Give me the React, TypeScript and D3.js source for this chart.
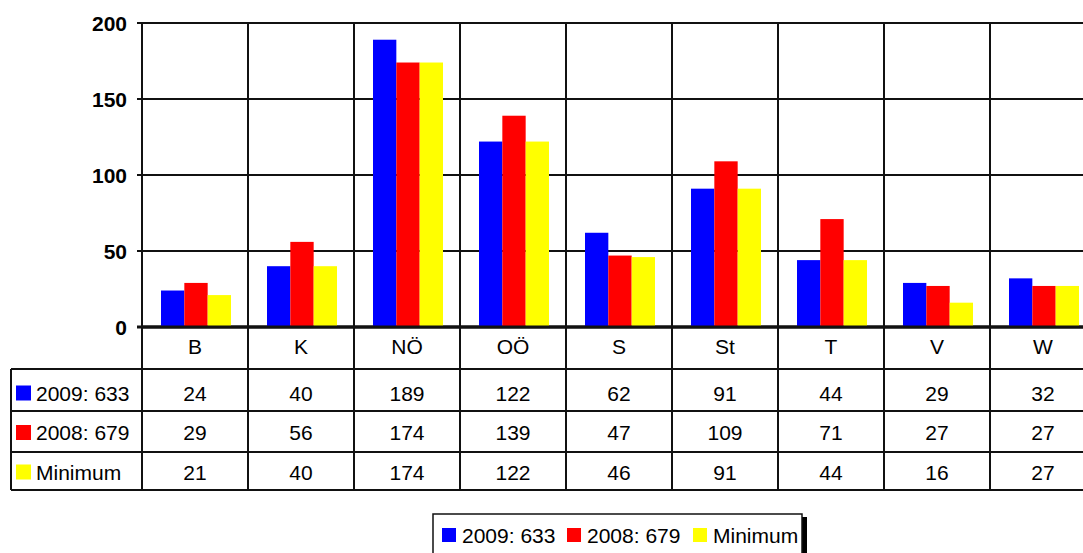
import * as d3 from 'd3'

const CATEGORIES = ['B', 'K', 'NÖ', 'OÖ', 'S', 'St', 'T', 'V', 'W']
const SERIES = ['2009: 633', '2008: 679', 'Minimum']
const COLORS = ['#0000ff', '#ff0000', '#ffff00']
const VALUES_2009 = [24, 40, 189, 122, 62, 91, 44, 29, 32]
const VALUES_2008 = [29, 56, 174, 139, 47, 109, 71, 27, 27]
const VALUES_MIN = [21, 40, 174, 122, 46, 91, 44, 16, 27]
const Y_TICKS = [0, 50, 100, 150, 200]

const W = 1083
const H = 553
const PLOT = { left: 142, top: 23, bottom: 327, step: 106 }
const ROWS = [369, 411, 452, 490]
// vertical centre of text in header row and each data row
const HEADER_TEXT_Y = 346
const ROW_TEXT_Y = [393, 432.5, 472]
const TABLE_LEFT = 11
const FONT = 'Arial, "Liberation Sans", sans-serif'
const FS = 21

export default function App() {
  const data = [VALUES_2009, VALUES_2008, VALUES_MIN]

  const x = d3
    .scaleBand<string>()
    .domain(CATEGORIES)
    .range([PLOT.left, PLOT.left + PLOT.step * CATEGORIES.length])
    .padding(0)
  const inner = d3.scaleBand<string>().domain(SERIES).range([19, 89]).padding(0)
  const y = d3.scaleLinear().domain([0, 200]).range([PLOT.bottom, PLOT.top])

  const right = PLOT.left + PLOT.step * CATEGORIES.length
  const stroke = '#111'
  const mid = (c: string) => (x(c) ?? 0) + x.bandwidth() / 2

  return (
    <svg
      width={W}
      height={H}
      style={{ position: 'absolute', left: 0, top: 0, background: '#fff' }}
      fontFamily={FONT}
    >
      {/* horizontal grid + ticks */}
      {Y_TICKS.map((t) => (
        <g key={t}>
          <line x1={PLOT.left - 5} x2={right} y1={y(t)} y2={y(t)} stroke={stroke} strokeWidth={t === 0 ? 3 : 2} />
          <text x={127} y={y(t)} dy="0.36em" textAnchor="end" fontWeight="bold" fontSize={FS}>
            {t}
          </text>
        </g>
      ))}

      {/* bars */}
      {CATEGORIES.map((c, i) => (
        <g key={c} transform={`translate(${x(c)},0)`}>
          {SERIES.map((s, j) => (
            <rect
              key={s}
              x={inner(s)}
              width={inner.bandwidth()}
              y={y(data[j][i])}
              height={y(0) - y(data[j][i])}
              fill={COLORS[j]}
            />
          ))}
        </g>
      ))}

      {/* vertical grid lines through plot and table */}
      {CATEGORIES.map((c) => (
        <line key={c} x1={x(c)} x2={x(c)} y1={PLOT.top} y2={ROWS[3]} stroke={stroke} strokeWidth={2} />
      ))}
      <line x1={right} x2={right} y1={PLOT.top} y2={ROWS[3]} stroke={stroke} strokeWidth={2} />
      <line x1={PLOT.left} x2={right} y1={PLOT.bottom} y2={PLOT.bottom} stroke={stroke} strokeWidth={3} />

      {/* data table */}
      <line x1={TABLE_LEFT} x2={TABLE_LEFT} y1={ROWS[0]} y2={ROWS[3]} stroke={stroke} strokeWidth={2} />
      {ROWS.map((r) => (
        <line key={r} x1={TABLE_LEFT} x2={right} y1={r} y2={r} stroke={stroke} strokeWidth={2} />
      ))}
      {CATEGORIES.map((c) => (
        <text key={c} x={mid(c)} y={HEADER_TEXT_Y} dy="0.36em" textAnchor="middle" fontSize={FS}>
          {c}
        </text>
      ))}
      {SERIES.map((s, j) => {
        const cy = ROW_TEXT_Y[j]
        return (
          <g key={s}>
            <rect x={16} y={cy - 7.5} width={15} height={15} fill={COLORS[j]} />
            <text x={36} y={cy} dy="0.36em" fontSize={FS}>
              {s}
            </text>
            {CATEGORIES.map((c, i) => (
              <text key={c} x={mid(c)} y={cy} dy="0.36em" textAnchor="middle" fontSize={FS}>
                {data[j][i]}
              </text>
            ))}
          </g>
        )
      })}

      {/* legend */}
      <rect x={437} y={517} width={370} height={50} fill="#000" />
      <rect x={433} y={514} width={369} height={50} fill="#fff" stroke={stroke} strokeWidth={1.5} />
      {SERIES.map((s, j) => {
        const lx = [442, 567, 693][j]
        return (
          <g key={s}>
            <rect x={lx} y={528} width={14} height={14} fill={COLORS[j]} />
            <text x={lx + 20} y={535} dy="0.36em" fontSize={FS}>
              {s}
            </text>
          </g>
        )
      })}
    </svg>
  )
}
